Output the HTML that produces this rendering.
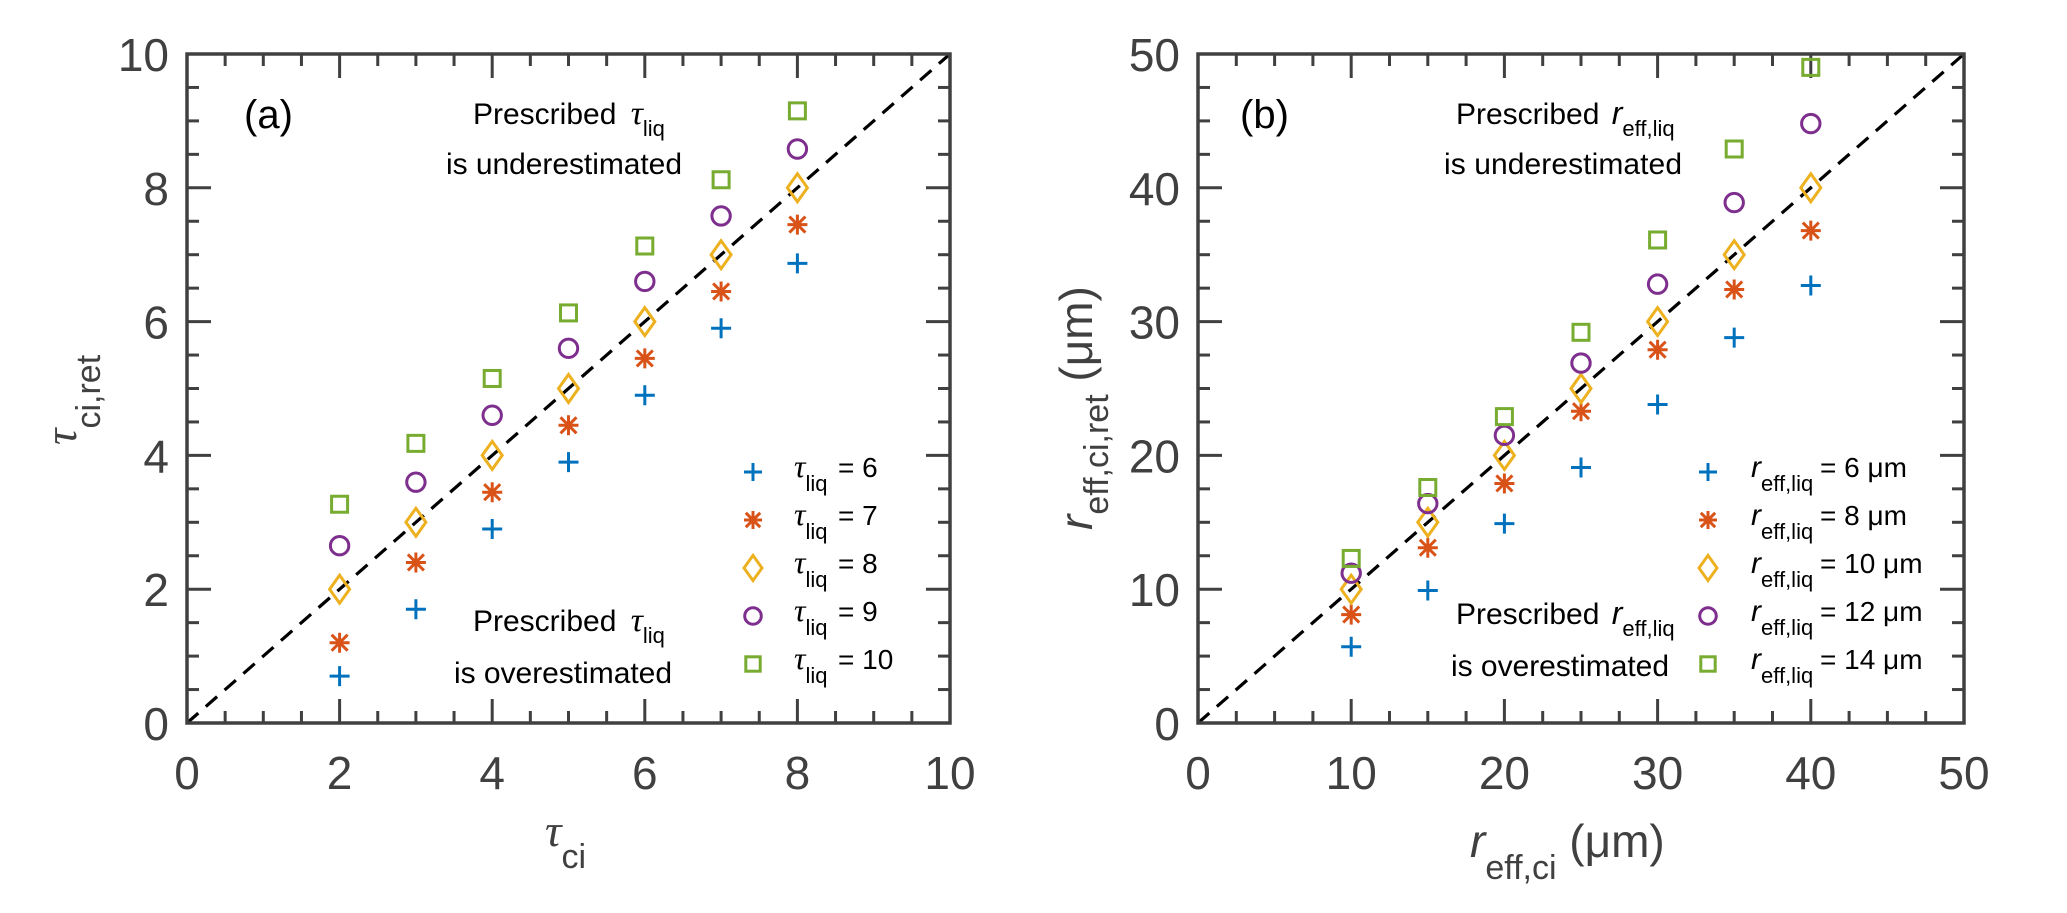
<!DOCTYPE html>
<html><head><meta charset="utf-8"><style>
html,body{margin:0;padding:0;background:#fff;}
svg{display:block;font-family:"Liberation Sans",Arial,sans-serif;}
</style></head><body>
<svg id="fig" width="2067" height="913" viewBox="0 0 2067 913" xmlns="http://www.w3.org/2000/svg">
<g id="pa"></g>
<g id="pb"></g>

<!-- panel a text -->
<text x="244" y="128" font-size="40">(a)</text>
<text x="473" y="124" font-size="30">Prescribed  <tspan font-family="Liberation Serif" font-style="italic" font-size="34" dx="6">τ</tspan><tspan font-size="22" dy="12">liq</tspan></text>
<text x="446" y="174" font-size="30" textLength="236">is underestimated</text>
<text x="473" y="631" font-size="30">Prescribed  <tspan font-family="Liberation Serif" font-style="italic" font-size="34" dx="6">τ</tspan><tspan font-size="22" dy="12">liq</tspan></text>
<text x="454" y="683" font-size="30" textLength="218">is overestimated</text>
<text x="545" y="846" font-size="46" fill="#404040"><tspan font-family="Liberation Serif" font-style="italic">τ</tspan><tspan font-size="34" dy="22">ci</tspan></text>
<text transform="translate(76,445) rotate(-90)" font-size="46" fill="#404040"><tspan font-family="Liberation Serif" font-style="italic">τ</tspan><tspan font-size="34" dy="24">ci,ret</tspan></text>

<!-- panel b text -->
<text x="1240" y="128" font-size="40">(b)</text>
<text x="1456" y="124" font-size="30">Prescribed  <tspan font-style="italic" font-size="32" dx="4">r</tspan><tspan font-size="22" dy="12">eff,liq</tspan></text>
<text x="1444" y="174" font-size="30" textLength="238">is underestimated</text>
<text x="1456" y="624" font-size="30">Prescribed  <tspan font-style="italic" font-size="32" dx="4">r</tspan><tspan font-size="22" dy="12">eff,liq</tspan></text>
<text x="1451" y="676" font-size="30" textLength="218">is overestimated</text>
<text x="1470" y="857" font-size="46" fill="#404040"><tspan font-style="italic">r</tspan><tspan font-size="34" dy="22">eff,ci</tspan><tspan dy="-22"> (μm)</tspan></text>
<text transform="translate(1092,530) rotate(-90)" font-size="46" fill="#404040"><tspan font-style="italic">r</tspan><tspan font-size="34" dy="16">eff,ci,ret</tspan><tspan dy="-16"> (μm)</tspan></text>
</svg>
<script>
// ---- data panel a ----
const catsA = [2, 3, 4, 5, 6, 7, 8];
const tauLiq6 = [0.7, 1.7, 2.9, 3.9, 4.9, 5.9, 6.87];
const tauLiq7 = [1.2, 2.4, 3.45, 4.45, 5.45, 6.45, 7.45];
const tauLiq8 = [2, 3, 4, 5, 6, 7, 8];
const tauLiq9 = [2.65, 3.6, 4.6, 5.6, 6.6, 7.58, 8.58];
const tauLiq10 = [3.27, 4.18, 5.15, 6.13, 7.13, 8.12, 9.15];
const legendA = ["6", "7", "8", "9", "10"];
const ticksA = [0, 2, 4, 6, 8, 10];
// ---- data panel b ----
const catsB = [10, 15, 20, 25, 30, 35, 40];
const reff6 = [5.7, 9.9, 14.9, 19.1, 23.8, 28.8, 32.7];
const reff8 = [8.1, 13.1, 17.9, 23.3, 27.9, 32.4, 36.8];
const reff10 = [10, 15, 20, 25, 30, 35, 40];
const reff12 = [11.2, 16.4, 21.5, 26.9, 32.8, 38.9, 44.8];
const reff14 = [12.3, 17.6, 22.9, 29.2, 36.1, 42.9, 49];
const legendB = ["6 μm", "8 μm", "10 μm", "12 μm", "14 μm"];
const ticksB = [0, 10, 20, 30, 40, 50];

const NS = "http://www.w3.org/2000/svg";
const COLORS = ["#0072BD", "#D95319", "#EDB120", "#7E2F8E", "#77AC30"];
const SHAPES = ["plus", "star", "diamond", "circle", "square"];
function mk(tag, attrs, parent) {
  const e = document.createElementNS(NS, tag);
  for (const k in attrs) e.setAttribute(k, attrs[k]);
  parent.appendChild(e);
  return e;
}
function marker(g, shape, cx, cy, color, s) {
  const st = {fill: "none", stroke: color, "stroke-width": 3};
  if (shape === "plus") {
    mk("path", Object.assign({d: `M${cx-s*0.5},${cy}H${cx+s*0.5}M${cx},${cy-s*0.5}V${cy+s*0.5}`}, st), g);
  } else if (shape === "star") {
    const r = s * 0.5, d = r * 0.8;
    mk("path", Object.assign({d: `M${cx-r},${cy}H${cx+r}M${cx},${cy-r}V${cy+r}M${cx-d},${cy-d}L${cx+d},${cy+d}M${cx-d},${cy+d}L${cx+d},${cy-d}`}, st), g);
  } else if (shape === "diamond") {
    mk("path", Object.assign({d: `M${cx},${cy-s*0.7}L${cx+s*0.5},${cy}L${cx},${cy+s*0.7}L${cx-s*0.5},${cy}Z`}, st), g);
  } else if (shape === "circle") {
    mk("circle", Object.assign({cx: cx, cy: cy, r: s * 0.46}, st), g);
  } else {
    const h = s * 0.4;
    mk("rect", Object.assign({x: cx-h, y: cy-h, width: 2*h, height: 2*h}, st), g);
  }
}
function panel(g, box, max, ticks, minorStep, cats, series, prefix) {
  const sx = v => box.x0 + (v / max) * (box.x1 - box.x0);
  const sy = v => box.y1 - (v / max) * (box.y1 - box.y0);
  const tg = mk("g", {stroke: "#404040", "stroke-width": 3}, g);
  
  
  for (let v = 0; v <= max + 1e-9; v += minorStep) {
    const major = ticks.some(t => Math.abs(t - v) < 1e-9);
    const L = major ? 24 : 12;
    const x = sx(v), y = sy(v);
    mk("line", {x1: x, y1: box.y1, x2: x, y2: box.y1 - L}, tg);
    mk("line", {x1: x, y1: box.y0, x2: x, y2: box.y0 + L}, tg);
    mk("line", {x1: box.x0, y1: y, x2: box.x0 + L, y2: y}, tg);
    mk("line", {x1: box.x1, y1: y, x2: box.x1 - L, y2: y}, tg);
  }
  ticks.forEach(t => {
    const xl = mk("text", {x: sx(t), y: box.y1 + 66, "font-size": 46, fill: "#404040", "text-anchor": "middle"}, g);
    xl.textContent = t;
    
    
    const yl = mk("text", {x: box.x0 - 18, y: sy(t) + 17, "font-size": 46, fill: "#404040", "text-anchor": "end"}, g);
    yl.textContent = t;
    
    
  });
  const ref = mk("line", {x1: sx(0), y1: sy(0), x2: sx(max), y2: sy(max), stroke: "#000", "stroke-width": 3.2, "stroke-dasharray": "15 10"}, g);
  
  
  const fr = mk("rect", {x: box.x0, y: box.y0, width: box.x1 - box.x0, height: box.y1 - box.y0, fill: "none", stroke: "#404040", "stroke-width": 3.5}, g);
  
  
  series.forEach((vals, i) => {
    const sg = mk("g", {}, g);
    
    
    vals.forEach((v, j) => marker(sg, SHAPES[i], sx(cats[j]), sy(v), COLORS[i], 20));
  });
}
function legend(g, symX, textX, eqX, labels, isTau, prefix) {
  labels.forEach((lab, i) => {
    const y = 472 + i * 48;
    const lg = mk("g", {}, g);
    
    
    marker(lg, SHAPES[i], symX, y, COLORS[i], 18);
    const t = mk("text", {x: textX, y: y + 5, "font-size": 28}, lg);
    const a = mk("tspan", isTau ? {"font-family": "Liberation Serif", "font-style": "italic", "font-size": 32} : {"font-style": "italic", "font-size": 30}, t);
    a.textContent = isTau ? "τ" : "r";
    const b = mk("tspan", {"font-size": 22, dy: 14}, t);
    b.textContent = isTau ? "liq" : "eff,liq";
    const c = mk("tspan", {x: eqX, dy: -14, "font-size": 28}, t);
    c.textContent = "= " + lab;
  });
}
const pa = document.getElementById("pa");
const pb = document.getElementById("pb");
panel(pa, {x0: 187, x1: 950, y0: 54, y1: 723}, 10, ticksA, 0.5, catsA, [tauLiq6, tauLiq7, tauLiq8, tauLiq9, tauLiq10], "panel-a");
panel(pb, {x0: 1198, x1: 1964, y0: 54, y1: 723}, 50, ticksB, 2.5, catsB, [reff6, reff8, reff10, reff12, reff14], "panel-b");
legend(pa, 753, 794, 838, legendA, true, "panel-a");
legend(pb, 1708, 1751, 1820, legendB, false, "panel-b");
</script>
</body></html>
